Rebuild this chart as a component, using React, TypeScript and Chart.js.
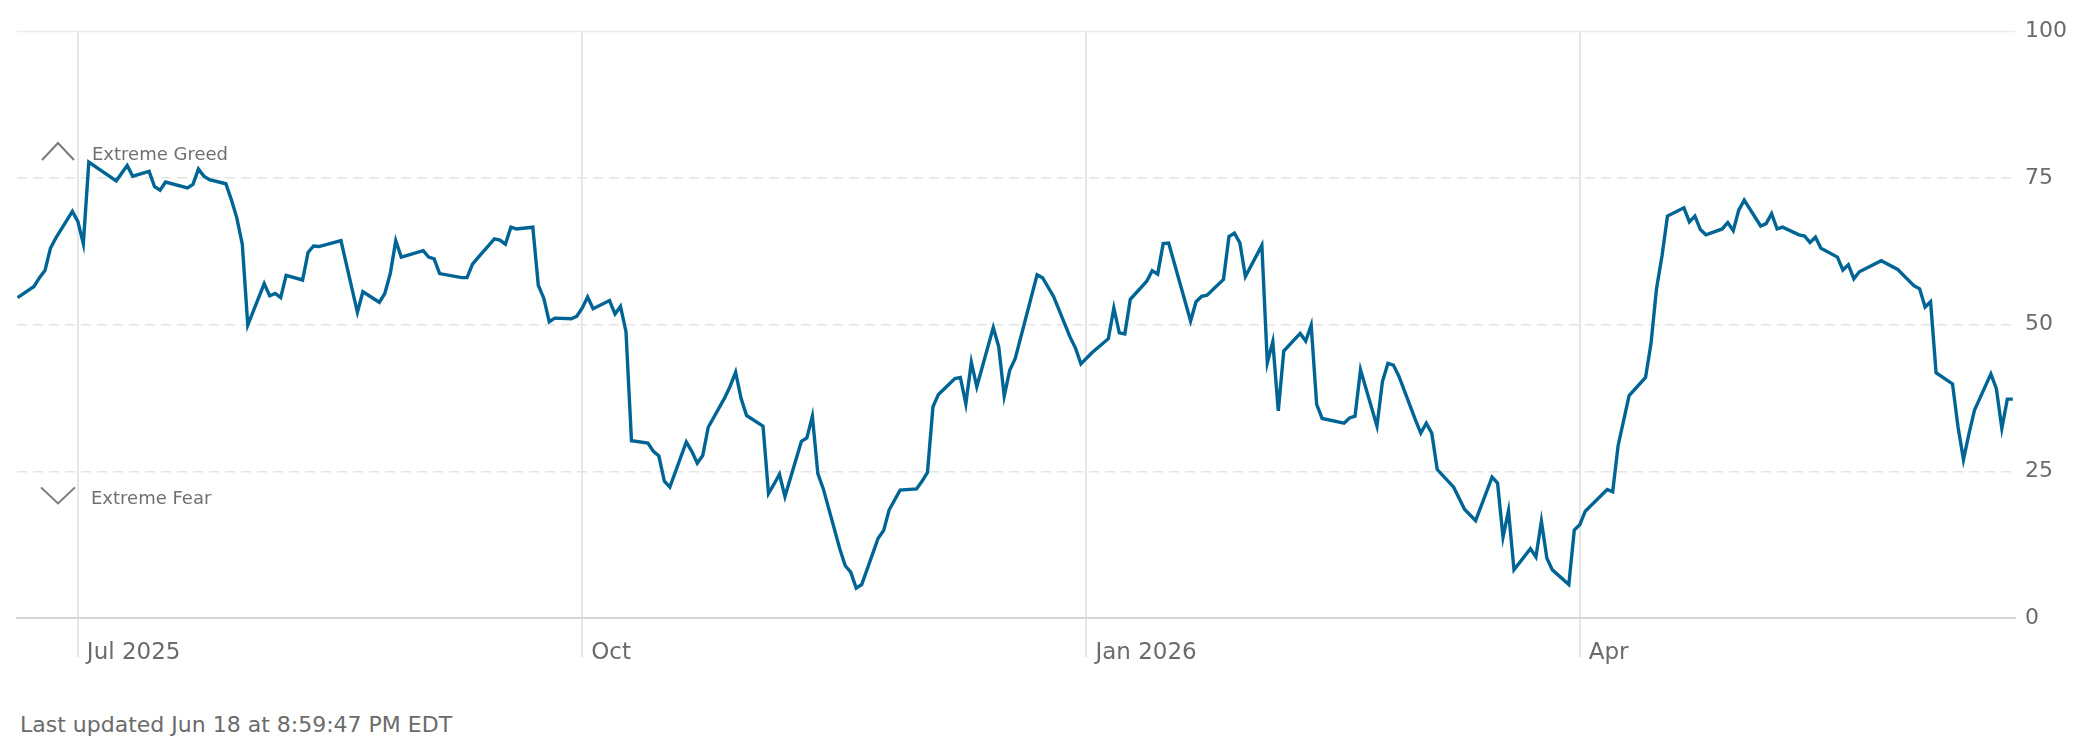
import React, { useEffect, useRef } from 'react';
import { Chart, registerables, Plugin } from 'chart.js';
Chart.register(...registerables);

// Fear & Greed index, daily readings (turning points)
const DATES: string[] = [
  // Jun 2025
  '2025-06-20', '2025-06-23', '2025-06-24', '2025-06-25', '2025-06-26', '2025-06-27', '2025-06-30',
  // Jul
  '2025-07-01', '2025-07-02', '2025-07-03', '2025-07-08', '2025-07-10', '2025-07-11', '2025-07-14',
  '2025-07-15', '2025-07-16', '2025-07-17', '2025-07-21', '2025-07-22', '2025-07-23', '2025-07-24',
  '2025-07-25', '2025-07-28', '2025-07-29', '2025-07-30', '2025-07-31',
  // Aug
  '2025-08-01', '2025-08-04', '2025-08-05', '2025-08-06', '2025-08-07', '2025-08-08', '2025-08-11',
  '2025-08-12', '2025-08-13', '2025-08-14', '2025-08-18', '2025-08-21', '2025-08-22', '2025-08-25',
  '2025-08-26', '2025-08-27', '2025-08-28', '2025-08-29',
  // Sep
  '2025-09-02', '2025-09-03', '2025-09-04', '2025-09-05', '2025-09-09', '2025-09-10', '2025-09-11',
  '2025-09-12', '2025-09-15', '2025-09-16', '2025-09-17', '2025-09-18', '2025-09-19', '2025-09-22',
  '2025-09-23', '2025-09-24', '2025-09-25', '2025-09-26', '2025-09-29', '2025-09-30',
  // Oct
  '2025-10-01', '2025-10-02', '2025-10-03', '2025-10-06', '2025-10-07', '2025-10-08', '2025-10-09',
  '2025-10-10', '2025-10-13', '2025-10-14', '2025-10-15', '2025-10-16', '2025-10-17', '2025-10-20',
  '2025-10-21', '2025-10-22', '2025-10-23', '2025-10-24', '2025-10-27', '2025-10-28', '2025-10-29',
  '2025-10-30', '2025-10-31',
  // Nov
  '2025-11-03', '2025-11-04', '2025-11-05', '2025-11-06', '2025-11-07', '2025-11-10', '2025-11-11',
  '2025-11-12', '2025-11-13', '2025-11-14', '2025-11-17', '2025-11-18', '2025-11-19', '2025-11-20',
  '2025-11-21', '2025-11-24', '2025-11-25', '2025-11-26', '2025-11-28',
  // Dec
  '2025-12-01', '2025-12-02', '2025-12-03', '2025-12-04', '2025-12-05', '2025-12-08', '2025-12-09',
  '2025-12-10', '2025-12-11', '2025-12-12', '2025-12-15', '2025-12-16', '2025-12-17', '2025-12-18',
  '2025-12-19', '2025-12-23', '2025-12-24', '2025-12-26', '2025-12-29', '2025-12-30', '2025-12-31',
  // Jan 2026
  '2026-01-02', '2026-01-05', '2026-01-06', '2026-01-07', '2026-01-08', '2026-01-09', '2026-01-12',
  '2026-01-13', '2026-01-14', '2026-01-15', '2026-01-16', '2026-01-20', '2026-01-21', '2026-01-22',
  '2026-01-23', '2026-01-26', '2026-01-27', '2026-01-28', '2026-01-29', '2026-01-30',
  // Feb
  '2026-02-02', '2026-02-03', '2026-02-04', '2026-02-05', '2026-02-06', '2026-02-09', '2026-02-10',
  '2026-02-11', '2026-02-12', '2026-02-13', '2026-02-17', '2026-02-18', '2026-02-19', '2026-02-20',
  '2026-02-23', '2026-02-24', '2026-02-25', '2026-02-26', '2026-02-27',
  // Mar
  '2026-03-02', '2026-03-03', '2026-03-04', '2026-03-05', '2026-03-06', '2026-03-09', '2026-03-11',
  '2026-03-13', '2026-03-16', '2026-03-17', '2026-03-18', '2026-03-19', '2026-03-20', '2026-03-23',
  '2026-03-24', '2026-03-25', '2026-03-26', '2026-03-27', '2026-03-30', '2026-03-31',
  // Apr
  '2026-04-01', '2026-04-02', '2026-04-06', '2026-04-07', '2026-04-08', '2026-04-10', '2026-04-13',
  '2026-04-14', '2026-04-15', '2026-04-16', '2026-04-17', '2026-04-20', '2026-04-21', '2026-04-22',
  '2026-04-23', '2026-04-24', '2026-04-27', '2026-04-28', '2026-04-29', '2026-04-30',
  // May
  '2026-05-01', '2026-05-04', '2026-05-05', '2026-05-06', '2026-05-07', '2026-05-08', '2026-05-11',
  '2026-05-12', '2026-05-13', '2026-05-14', '2026-05-15', '2026-05-18', '2026-05-19', '2026-05-20',
  '2026-05-21', '2026-05-22', '2026-05-26', '2026-05-29',
  // Jun
  '2026-06-01', '2026-06-02', '2026-06-03', '2026-06-04', '2026-06-05', '2026-06-08', '2026-06-09',
  '2026-06-10', '2026-06-11', '2026-06-12', '2026-06-15', '2026-06-16', '2026-06-17', '2026-06-18',
  '2026-06-19',
];

const VALUES: number[] = [
  // Jun 2025
  54.6, 56.5, 58.0, 59.2, 63.0, 64.8, 69.3,
  // Jul
  67.6, 63.8, 77.7, 74.5, 77.1, 75.3, 76.1,
  73.5, 72.9, 74.3, 73.3, 73.9, 76.5, 75.3,
  74.7, 74.0, 71.3, 68.2, 63.7,
  // Aug
  49.9, 57.0, 54.9, 55.3, 54.6, 58.4, 57.6,
  62.3, 63.4, 63.3, 64.3, 52.1, 55.6, 53.8,
  55.3, 58.7, 64.3, 61.5,
  // Sep
  62.6, 61.5, 61.2, 58.7, 58.0, 58.0, 60.3,
  61.4, 64.6, 64.4, 63.7, 66.6, 66.3, 66.6,
  56.7, 54.5, 50.5, 51.1, 51.0, 51.4,
  // Oct
  52.8, 54.7, 52.7, 54.1, 51.8, 53.1, 48.8,
  30.2, 29.8, 28.4, 27.6, 23.3, 22.3, 30.0,
  28.4, 26.4, 27.7, 32.5, 37.5, 39.5, 41.9,
  37.4, 34.5,
  // Nov
  32.7, 21.2, 22.8, 24.5, 20.7, 30.1, 30.7,
  34.4, 24.6, 22.0, 11.8, 8.9, 7.8, 5.1,
  5.7, 13.6, 14.9, 18.4, 21.8,
  // Dec
  22.0, 23.3, 24.8, 36.0, 38.1, 40.8, 41.0,
  36.5, 43.6, 39.4, 49.5, 46.2, 37.8, 42.2,
  44.2, 58.5, 58.0, 54.8, 47.9, 46.0, 43.3,
  // Jan 2026
  45.2, 47.6, 52.8, 48.6, 48.4, 54.3, 57.4,
  59.2, 58.6, 63.8, 63.9, 50.6, 53.9, 54.8,
  55.0, 57.7, 65.0, 65.6, 63.9, 58.2,
  // Feb
  63.5, 43.5, 47.1, 35.3, 45.5, 48.5, 47.2,
  49.9, 36.4, 34.0, 33.2, 34.1, 34.4, 42.3,
  32.7, 40.3, 43.4, 43.1, 41.2,
  // Mar
  33.8, 31.5, 33.2, 31.5, 25.3, 22.3, 18.5,
  16.6, 24.0, 23.0, 13.8, 18.3, 8.2, 11.8,
  10.4, 16.5, 10.2, 8.2, 5.7, 15.0,
  // Apr
  15.9, 18.2, 21.9, 21.5, 29.4, 37.9, 41.0,
  46.8, 56.1, 61.7, 68.5, 69.9, 67.5, 68.5,
  66.2, 65.3, 66.3, 67.4, 66.0, 69.5,
  // May
  71.2, 66.8, 67.2, 68.9, 66.3, 66.6, 65.3,
  65.1, 64.0, 64.9, 63.0, 61.5, 59.3, 60.2,
  57.8, 59.0, 60.9, 59.4,
  // Jun
  56.6, 56.1, 53.0, 53.9, 41.8, 39.9, 32.6,
  27.0, 31.4, 35.4, 41.6, 39.1, 32.3, 37.3,
  37.3,
];

const TICK_DATES = ['2025-07-01', '2025-10-01', '2026-01-01', '2026-04-01'];
const TICK_LABELS = ['Jul 2025', 'Oct', 'Jan 2026', 'Apr'];
const ZONE_LABELS = ['Extreme Greed', 'Extreme Fear'];
const GREED_AT = 78.9;
const FEAR_AT = 20.3;
const UPDATED_TEXT = 'Last updated Jun 18 at 8:59:47 PM EDT';

const FONT = '"DejaVu Sans", "Liberation Sans", sans-serif';
const LINE_COLOR = '#006595';
const TEXT_COLOR = '#6b6b6b';

// x axis runs in days since Jul 1 2025
const ORIGIN = Date.parse('2025-07-01');
const toDay = (iso: string) => (Date.parse(iso) - ORIGIN) / 86400000;
const X_MIN = toDay('2025-06-20') - 0.1;
const X_MAX = toDay('2026-06-19') + 0.4;

// solid top rule plus the greed / fear markers on the left
const zonePlugin: Plugin<'line'> = {
  id: 'fgZones',
  beforeDatasetsDraw(chart) {
    const { ctx, chartArea, scales } = chart;
    const y = scales.y;
    const { left, right } = chartArea;
    ctx.save();

    const top = Math.round(y.getPixelForValue(100)) + 0.5;
    ctx.strokeStyle = '#ebebeb';
    ctx.lineWidth = 1.5;
    ctx.beginPath();
    ctx.moveTo(left, top);
    ctx.lineTo(right, top);
    ctx.stroke();

    ctx.font = `18px ${FONT}`;
    ctx.fillStyle = '#707070';
    ctx.textAlign = 'left';
    ctx.textBaseline = 'middle';
    ctx.strokeStyle = '#7a7a7a';
    ctx.lineWidth = 2;

    const gy = y.getPixelForValue(GREED_AT);
    ctx.beginPath();
    ctx.moveTo(left + 25, gy + 5);
    ctx.lineTo(left + 41, gy - 12);
    ctx.lineTo(left + 57, gy + 5);
    ctx.stroke();
    ctx.fillText(ZONE_LABELS[0], left + 75, gy);

    const fy = y.getPixelForValue(FEAR_AT);
    ctx.beginPath();
    ctx.moveTo(left + 24, fy - 11.5);
    ctx.lineTo(left + 41, fy + 4.5);
    ctx.lineTo(left + 58, fy - 11.5);
    ctx.stroke();
    ctx.fillText(ZONE_LABELS[1], left + 74, fy);

    ctx.restore();
  },
};

const FearGreedChart: React.FC = () => {
  const canvasRef = useRef<HTMLCanvasElement>(null);

  useEffect(() => {
    if (!canvasRef.current) return;
    const chart = new Chart(canvasRef.current, {
      type: 'line',
      data: {
        datasets: [
          {
            data: DATES.map((d, i) => ({ x: toDay(d), y: VALUES[i] })),
            borderColor: LINE_COLOR,
            borderWidth: 3.4,
            pointRadius: 0,
            tension: 0,
            fill: false,
          },
        ],
      },
      options: {
        animation: false,
        responsive: true,
        maintainAspectRatio: false,
        events: [],
        layout: { padding: { top: 22, left: 9, right: 0, bottom: 0 } },
        plugins: { legend: { display: false }, tooltip: { enabled: false } },
        scales: {
          x: {
            type: 'linear',
            min: X_MIN,
            max: X_MAX,
            afterBuildTicks: (scale) => {
              scale.ticks = TICK_DATES.map((d) => ({ value: toDay(d) }));
            },
            afterFit: (scale) => {
              scale.height = 47;
            },
            grid: { color: '#e6e6e6', lineWidth: 2, tickLength: 39 },
            border: { display: true, color: '#d6d6d6', width: 2 },
            ticks: {
              autoSkip: false,
              maxRotation: 0,
              minRotation: 0,
              align: 'start',
              labelOffset: 9,
              padding: -18,
              color: TEXT_COLOR,
              font: { family: FONT, size: 23 },
              callback: (_v, i) => TICK_LABELS[i],
            },
          },
          y: {
            position: 'right',
            min: 0,
            max: 100,
            afterFit: (scale) => {
              scale.width = 61;
            },
            grid: {
              drawTicks: false,
              lineWidth: 1.5,
              color: (c) => (c.tick && (c.tick.value === 0 || c.tick.value === 100) ? 'rgba(0,0,0,0)' : '#e4e4e4'),
            },
            border: { display: false, dash: [10, 6] },
            ticks: {
              stepSize: 25,
              padding: 10,
              color: TEXT_COLOR,
              font: { family: FONT, size: 22 },
            },
          },
        },
      },
      plugins: [zonePlugin],
    });
    return () => chart.destroy();
  }, []);

  return (
    <div style={{ position: 'relative', width: '100%', height: 657 }}>
      <canvas ref={canvasRef}></canvas>
    </div>
  );
};

export default function App() {
  return (
    <div style={{ fontFamily: FONT }}>
      <FearGreedChart />
      <div style={{ marginTop: 48, paddingLeft: 12, fontSize: 22, lineHeight: '24px', color: TEXT_COLOR }}>
        {UPDATED_TEXT}
      </div>
    </div>
  );
}
